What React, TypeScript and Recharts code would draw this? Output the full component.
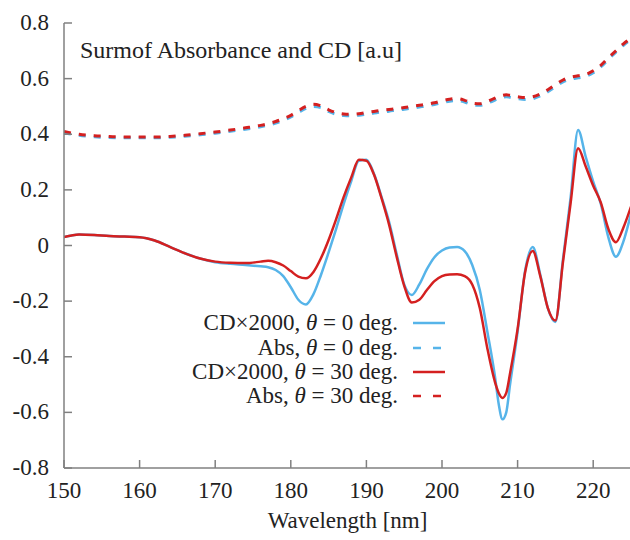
import { LineChart, Line, XAxis, YAxis, Legend } from "recharts";

const WAVELENGTH = [
  150, 152, 154, 156, 158, 160, 162, 164, 166, 168, 170, 172, 174, 176,
  177, 178, 179, 180, 181, 182, 183, 184, 185, 186, 187, 188, 189, 190, 191, 192, 193, 194, 195, 196,
  197, 198, 199, 200, 201, 202, 203, 204, 205, 206, 207,
  207.5, 208, 208.5, 209,
  210, 211, 212, 213, 214, 215, 216, 217, 218, 219, 220, 221, 222, 223, 224, 225,
];

const CD_0 = [
  0.03, 0.04, 0.038, 0.034, 0.032, 0.03, 0.018, -0.005, -0.028, -0.047, -0.06, -0.066, -0.07, -0.075,
  -0.078, -0.088, -0.11, -0.15, -0.195, -0.212, -0.175, -0.105, -0.025, 0.06, 0.15, 0.232, 0.305, 0.308, 0.258, 0.175, 0.085, -0.03, -0.14, -0.178,
  -0.14, -0.085, -0.042, -0.018, -0.007, -0.005, -0.02, -0.07, -0.16, -0.31, -0.47,
  -0.57, -0.625, -0.6, -0.5,
  -0.31, -0.09, -0.005, -0.105, -0.225, -0.275, -0.05, 0.17, 0.415, 0.32, 0.23, 0.15, 0.03, -0.04, 0.015, 0.115,
];

const ABS_0 = [
  0.405, 0.396, 0.391, 0.388, 0.387, 0.387, 0.387, 0.389, 0.393, 0.398, 0.404, 0.411, 0.418, 0.427,
  0.433, 0.44, 0.45, 0.462, 0.478, 0.493, 0.5, 0.496, 0.482, 0.472, 0.467, 0.466, 0.468, 0.472, 0.476, 0.48, 0.483, 0.487, 0.49, 0.494,
  0.498, 0.502, 0.507, 0.513, 0.519, 0.521, 0.516, 0.506, 0.504, 0.512, 0.523,
  0.529, 0.533, 0.535, 0.533,
  0.528, 0.525, 0.528, 0.538, 0.553, 0.571, 0.588, 0.598, 0.603, 0.608, 0.621, 0.642, 0.669, 0.695, 0.72, 0.741,
];

const CD_30 = [
  0.03, 0.04, 0.038, 0.034, 0.032, 0.03, 0.018, -0.005, -0.028, -0.047, -0.058, -0.062, -0.063, -0.058,
  -0.055, -0.06, -0.072, -0.092, -0.112, -0.118, -0.095, -0.045, 0.02, 0.095, 0.175, 0.245, 0.308, 0.305, 0.255, 0.17, 0.075, -0.04, -0.145, -0.205,
  -0.195, -0.16, -0.128, -0.11, -0.104, -0.103, -0.11, -0.14, -0.225, -0.37, -0.49,
  -0.53, -0.548, -0.53, -0.46,
  -0.3, -0.095, -0.02, -0.11, -0.225, -0.27, -0.06, 0.15, 0.35, 0.285, 0.215, 0.155, 0.06, 0.012, 0.065, 0.14,
];

const ABS_30 = [
  0.41, 0.4, 0.395, 0.392, 0.39, 0.39, 0.39, 0.392, 0.396, 0.402, 0.408, 0.415, 0.423, 0.432,
  0.438, 0.446, 0.456, 0.468, 0.485, 0.5, 0.508, 0.502, 0.488, 0.478, 0.473, 0.472, 0.474, 0.478, 0.482, 0.486, 0.489, 0.492, 0.496, 0.5,
  0.504, 0.508, 0.513, 0.52, 0.526, 0.528, 0.522, 0.512, 0.51, 0.518, 0.53,
  0.536, 0.54, 0.542, 0.54,
  0.535, 0.532, 0.535, 0.545, 0.56, 0.578, 0.595, 0.605, 0.61, 0.615, 0.628, 0.648, 0.675, 0.7, 0.725, 0.745,
];

const X_TICKS = [150, 160, 170, 180, 190, 200, 210, 220];
const Y_TICKS = [-0.8, -0.6, -0.4, -0.2, 0, 0.2, 0.4, 0.6, 0.8];

const BLUE = "#56b4e9";
const RED = "#d42020";
const FRAME = "#808080";
const FONT =
  '"Times New Roman", Times, Tinos, "Nimbus Roman", "Nimbus Roman No9 L", FreeSerif, "Noto Serif", "DejaVu Serif", "Liberation Serif", serif';

const SERIES = [
  { key: "cd0", label: "CD×2000", angle: "0", color: BLUE, dash: undefined as string | undefined },
  { key: "abs0", label: "Abs", angle: "0", color: BLUE, dash: "7 8" },
  { key: "cd30", label: "CD×2000", angle: "30", color: RED, dash: undefined },
  { key: "abs30", label: "Abs", angle: "30", color: RED, dash: "7 8" },
];

const data = WAVELENGTH.map((wl, i) => ({
  wl,
  cd0: CD_0[i],
  abs0: ABS_0[i],
  cd30: CD_30[i],
  abs30: ABS_30[i],
}));

const fmtY = (v: number) => (v === 0 ? "0" : v.toFixed(1));

const BottomTick = ({ x, y, payload }: any) => (
  <g>
    <line x1={x} x2={x} y1={y} y2={y - 8} stroke={FRAME} strokeWidth={1.5} />
    <text x={x} y={y + 30} textAnchor="middle" style={{ fontFamily: FONT }} fontSize={23} fill="#222">
      {payload.value}
    </text>
  </g>
);

const LeftTick = ({ x, y, payload }: any) => (
  <g>
    <line x1={x} x2={x + 8} y1={y} y2={y} stroke={FRAME} strokeWidth={1.5} />
    <text x={x - 15} y={y + 7} textAnchor="end" style={{ fontFamily: FONT }} fontSize={23} fill="#222">
      {fmtY(payload.value)}
    </text>
  </g>
);

const TopTick = ({ x, y }: any) => <line x1={x} x2={x} y1={y} y2={y + 8} stroke={FRAME} strokeWidth={1.5} />;
const RightTick = ({ x, y }: any) => <line x1={x} x2={x - 8} y1={y} y2={y} stroke={FRAME} strokeWidth={1.5} />;

const renderLegend = () => (
  <div style={{ fontFamily: FONT, fontSize: 23, color: "#222" }}>
    {SERIES.map((s) => (
      <div key={s.key} style={{ display: "flex", justifyContent: "flex-end", alignItems: "center", height: 24.4 }}>
        <span style={{ whiteSpace: "nowrap", lineHeight: "24px" }}>
          {s.label}, <i>θ</i> = {s.angle} deg.
        </span>
        <svg width={32} height={10} style={{ marginLeft: 15, marginRight: 5 }}>
          <line x1={0} x2={32} y1={5} y2={5} stroke={s.color} strokeWidth={2.5} strokeDasharray={s.dash ? "8 12" : undefined} />
        </svg>
      </div>
    ))}
  </div>
);

export default function App() {
  return (
    <div style={{ position: "absolute", left: 0, top: 0, width: 630, height: 540, overflow: "hidden", background: "#fff" }}>
      <LineChart width={640} height={540} data={data} margin={{ top: 23, right: 9, bottom: 0, left: 0 }}>
        <XAxis
          xAxisId="b"
          dataKey="wl"
          type="number"
          domain={[150, 225]}
          ticks={X_TICKS}
          allowDataOverflow
          height={72}
          tickSize={0}
          tickMargin={0}
          tickLine={false}
          axisLine={{ stroke: FRAME, strokeWidth: 1.5 }}
          tick={<BottomTick />}
          interval={0}
          label={{ value: "Wavelength [nm]", position: "insideBottom", offset: 12, style: { fontFamily: FONT }, fontSize: 23, fill: "#222" }}
        />
        <XAxis
          xAxisId="t"
          orientation="top"
          dataKey="wl"
          type="number"
          domain={[150, 225]}
          ticks={X_TICKS}
          allowDataOverflow
          height={0}
          tickSize={0}
          tickMargin={0}
          tickLine={false}
          axisLine={{ stroke: FRAME, strokeWidth: 1.5 }}
          tick={<TopTick />}
          interval={0}
        />
        <YAxis
          yAxisId="l"
          type="number"
          domain={[-0.8, 0.8]}
          ticks={Y_TICKS}
          allowDataOverflow
          width={64}
          tickSize={0}
          tickMargin={0}
          tickLine={false}
          axisLine={{ stroke: FRAME, strokeWidth: 1.5 }}
          tick={<LeftTick />}
          interval={0}
        />
        <YAxis
          yAxisId="r"
          orientation="right"
          type="number"
          domain={[-0.8, 0.8]}
          ticks={Y_TICKS}
          allowDataOverflow
          width={0}
          tickSize={0}
          tickMargin={0}
          tickLine={false}
          axisLine={{ stroke: FRAME, strokeWidth: 1.5 }}
          tick={<RightTick />}
          interval={0}
        />
        {SERIES.map((s) => (
          <Line
            key={s.key}
            xAxisId="b"
            yAxisId="l"
            dataKey={s.key}
            type="monotone"
            stroke={s.color}
            strokeWidth={s.dash ? 3 : 2.5}
            strokeDasharray={s.dash}
            dot={false}
            activeDot={false}
            isAnimationActive={false}
          />
        ))}
        <Legend
          layout="vertical"
          align="center"
          verticalAlign="middle"
          content={renderLegend}
          wrapperStyle={{ left: 100, top: 311, width: 350 }}
        />
      </LineChart>
      <div
        style={{
          position: "absolute",
          left: 80,
          top: 38,
          fontFamily: FONT,
          fontSize: 24,
          lineHeight: "24px",
          color: "#222",
          whiteSpace: "nowrap",
        }}
      >
        Surmof Absorbance and CD [a.u]
      </div>
    </div>
  );
}
